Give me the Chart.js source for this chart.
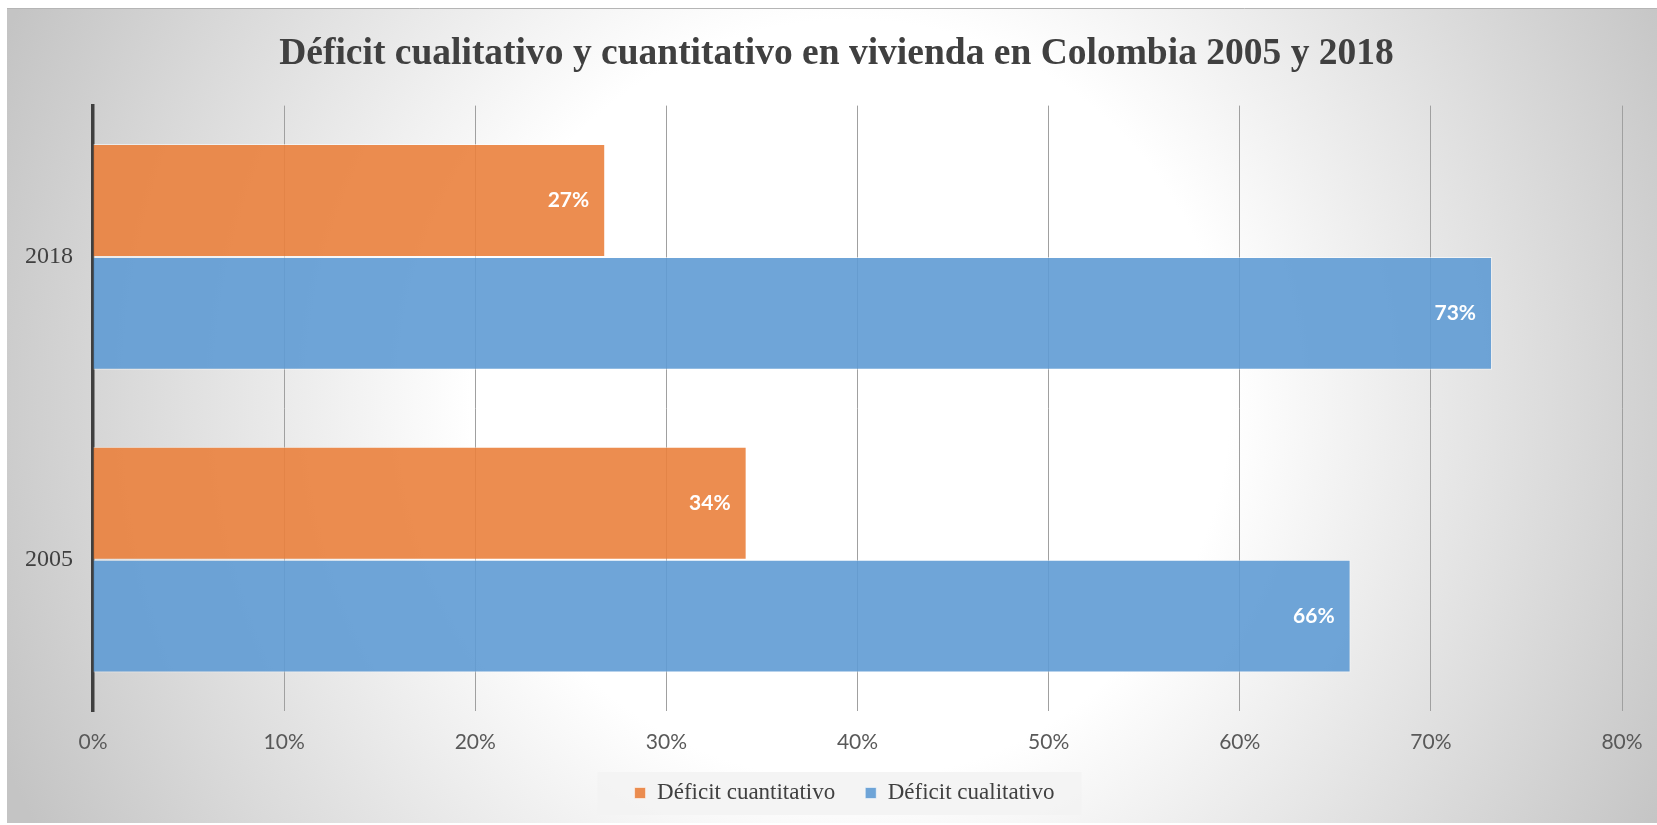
<!DOCTYPE html>
<html lang="es">
<head>
<meta charset="utf-8">
<title>Déficit de vivienda en Colombia</title>
<script src="https://cdn.jsdelivr.net/npm/chart.js@4.4.1/dist/chart.umd.min.js"></script>
<style>
    html, body { margin: 0; padding: 0; background: #fff; overflow: hidden; }
    canvas { display: block; }
</style>
</head>
<body>
<canvas id="viviendaChart" width="1657" height="825"></canvas>
<script>
// Data
const years = ['2018', '2005'];
const deficitCuantitativo = [26.8, 34.2];
const deficitCualitativo = [73.2, 65.8];
const xTicks = [0, 10, 20, 30, 40, 50, 60, 70, 80];

const initApp = () => {

    // Radial grey background + faint legend panel
    const backgroundPlugin = {
        id: 'chartBackground',
        beforeDraw: (chart) => {
            const ctx = chart.ctx;
            ctx.save();
            ctx.fillStyle = '#ffffff';
            ctx.fillRect(0, 0, chart.width, chart.height);

            const grad = ctx.createRadialGradient(850, 400, 380, 850, 400, 920);
            grad.addColorStop(0, '#ffffff');
            grad.addColorStop(1, '#c4c4c4');
            ctx.fillStyle = grad;
            ctx.fillRect(7, 8, chart.width - 7, chart.height - 10);

            ctx.strokeStyle = '#b5b5b5';
            ctx.lineWidth = 1;
            ctx.beginPath();
            ctx.moveTo(7, 8.5);
            ctx.lineTo(chart.width, 8.5);
            ctx.stroke();

            const legend = chart.legend;
            if (legend && legend.lineWidths) {
                const pad = legend.options.labels.padding;
                const rowWidth = legend.lineWidths[0] - pad;
                const cx = (legend.left + legend.right) / 2;
                const cy = legend.top + pad + legend.options.labels.font.size / 2;
                ctx.fillStyle = 'rgba(243, 243, 243, 0.9)';
                ctx.fillRect(cx - rowWidth / 2 - 37, cy - 21, rowWidth + 64, 43);
            }
            ctx.restore();
        }
    };

    // Title and legend are not centred on the canvas in the original
    const centerBoxesPlugin = {
        id: 'centerBoxes',
        afterLayout: (chart) => {
            const moveTo = (box, center) => {
                if (!box) return;
                const dx = center - (box.left + box.right) / 2;
                box.left += dx;
                box.right += dx;
            };
            moveTo(chart.titleBlock, 836.5);
            moveTo(chart.legend, 844.5);
        }
    };

    // White percentage labels at the end of each bar
    const barLabelsPlugin = {
        id: 'barLabels',
        afterDatasetsDraw: (chart) => {
            const ctx = chart.ctx;
            ctx.save();
            ctx.font = 'bold 21px Lato';
            ctx.fillStyle = '#ffffff';
            ctx.textAlign = 'right';
            ctx.textBaseline = 'middle';
            chart.data.datasets.forEach((dataset, i) => {
                chart.getDatasetMeta(i).data.forEach((bar, j) => {
                    ctx.fillText(Math.round(dataset.data[j]) + '%', bar.x - 16, bar.y);
                });
            });
            ctx.restore();
        }
    };

    let viviendaChart = document.getElementById('viviendaChart');

    if (viviendaChart) {
        const myViviendaChart = new Chart(viviendaChart, {
            type: 'bar',
            data: {
                labels: years,
                datasets: [
                    {
                        label: 'Déficit cuantitativo',
                        data: deficitCuantitativo,
                        backgroundColor: 'rgba(234, 129, 61, 0.9)',
                        borderColor: 'rgba(255, 255, 255, 0.55)',
                        borderWidth: 1,
                        categoryPercentage: 0.746,
                        barPercentage: 1.0,
                    },
                    {
                        label: 'Déficit cualitativo',
                        data: deficitCualitativo,
                        backgroundColor: 'rgba(95, 155, 212, 0.9)',
                        borderColor: 'rgba(255, 255, 255, 0.55)',
                        borderWidth: 1,
                        categoryPercentage: 0.746,
                        barPercentage: 1.0,
                    }
                ]
            },
            options: {
                indexAxis: 'y',
                responsive: false,
                animation: false,
                layout: {
                    padding: { left: 0, right: 35, top: 0, bottom: 10.5 }
                },
                plugins: {
                    title: {
                        display: true,
                        text: 'Déficit cualitativo y cuantitativo en vivienda en Colombia 2005 y 2018',
                        color: '#404040',
                        font: { family: '"Liberation Serif", "Times New Roman", serif', size: 37.5, weight: 'bold' },
                        padding: { top: 31.8, bottom: 28.8 }
                    },
                    legend: {
                        position: 'bottom',
                        labels: {
                            color: '#404040',
                            font: { family: '"Liberation Serif", "Times New Roman", serif', size: 23 },
                            boxWidth: 11,
                            boxHeight: 11,
                            padding: 30
                        }
                    },
                    tooltip: { enabled: false }
                },
                scales: {
                    x: {
                        min: 0,
                        max: 80,
                        afterBuildTicks: (scale) => {
                            scale.ticks = xTicks.map((v) => ({ value: v }));
                        },
                        afterFit: (scale) => {
                            scale.height = 40.5;
                        },
                        grid: {
                            color: '#a0a0a0',
                            lineWidth: 1,
                            drawTicks: true,
                            tickLength: 11,
                            tickColor: 'rgba(0, 0, 0, 0)'
                        },
                        border: { display: false },
                        ticks: {
                            color: '#595959',
                            font: { family: 'Lato', size: 21 },
                            padding: 8,
                            callback: (value) => value + '%'
                        }
                    },
                    y: {
                        afterFit: (scale) => {
                            scale.width = 93;
                        },
                        grid: {
                            display: false,
                            drawTicks: false
                        },
                        border: {
                            display: true,
                            color: '#3f3f3f',
                            width: 3.5
                        },
                        ticks: {
                            color: '#404040',
                            font: { family: '"Liberation Serif", "Times New Roman", serif', size: 24 },
                            padding: 20
                        }
                    }
                }
            },
            plugins: [backgroundPlugin, centerBoxesPlugin, barLabelsPlugin]
        });
    }
}

document.addEventListener('DOMContentLoaded', initApp);
</script>
</body>
</html>
